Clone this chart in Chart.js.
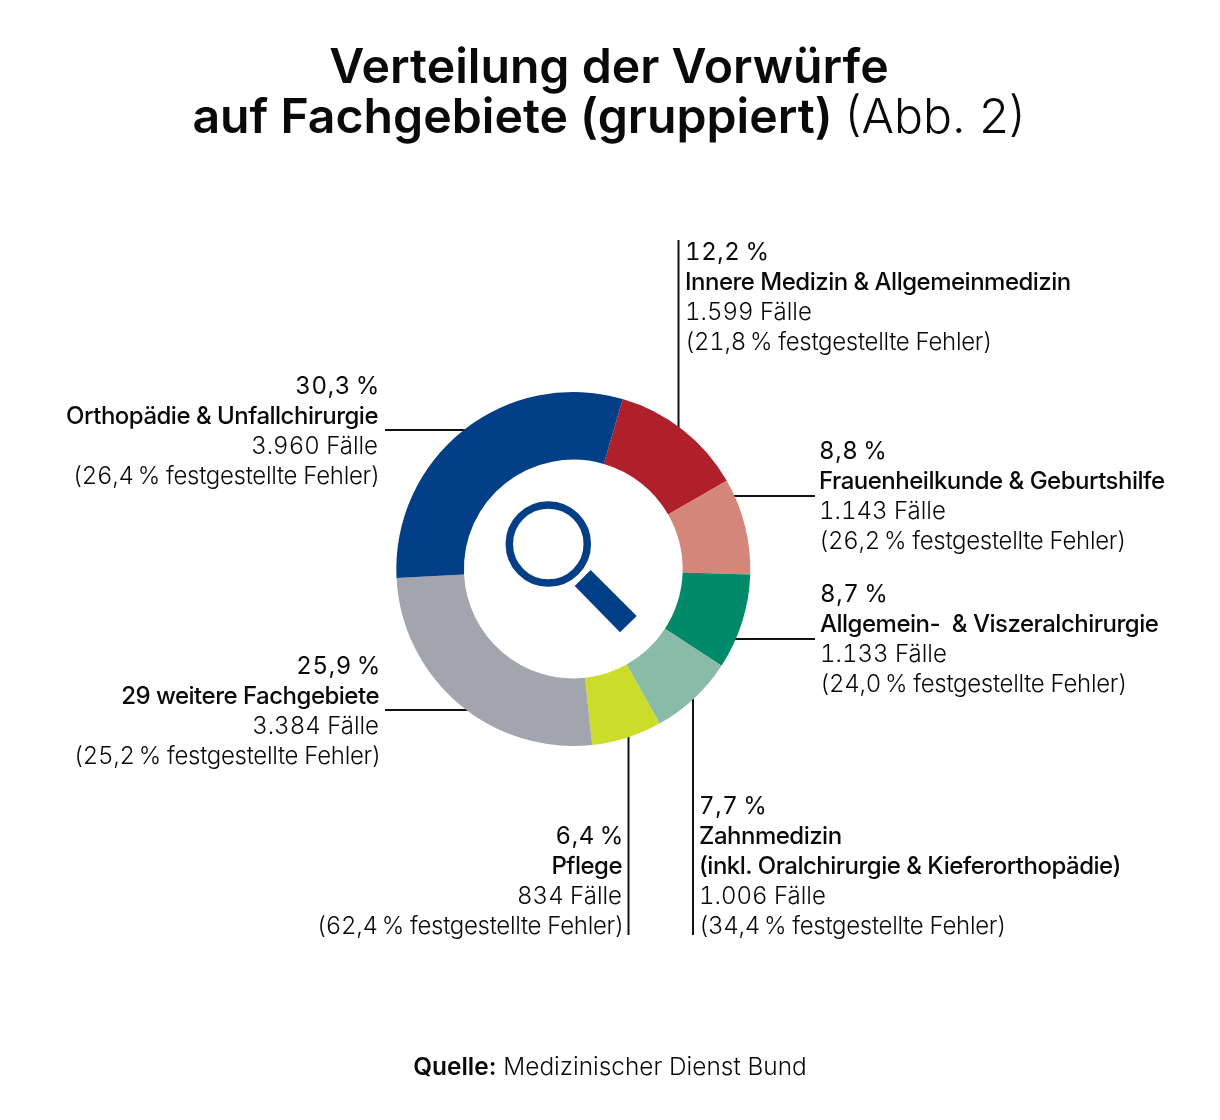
<!DOCTYPE html>
<html lang="de">
<head>
<meta charset="utf-8">
<title>Verteilung der Vorwürfe</title>
<script src="https://cdn.jsdelivr.net/npm/chart.js@4"></script>
<style>
  html, body { margin: 0; background: #fff; }
  #wrap { position: relative; width: 1220px; height: 1120px; overflow: hidden; font-family: Inter, "Open Sans", sans-serif; color: #0a0a0a; }
  #c { position: absolute; left: 0; top: 0; }
  .title { position: absolute; left: 0; width: 1218px; text-align: center; font-size: 48.2px; line-height: 50px; font-weight: 600; top: 41px; }
  .title span { font-weight: 300; }
  .lbl { position: absolute; font-size: 24px; line-height: 30px; white-space: pre; font-weight: 300; font-feature-settings: 'tnum'; }
  .lbl.r { text-align: right; }
  .lbl b { font-weight: 500; letter-spacing: -0.5px; font-feature-settings: normal; }
  .lbl i { font-style: normal; font-weight: 400; letter-spacing: 0.6px; }
  .lbl u { text-decoration: none; letter-spacing: -0.3px; }
  .lbl.r i, .lbl.r u { margin-right: -2px; }
  .src { position: absolute; left: 0; width: 1220px; text-align: center; top: 1051px; font-size: 24.4px; line-height: 30px; font-weight: 300; }
  .src b { font-weight: 600; }
</style>
</head>
<body>
<div id="wrap">
  <canvas id="c" width="1220" height="1120"></canvas>
  <div class="title">Verteilung der Vorwürfe<br>auf Fachgebiete (gruppiert) <span>(Abb. 2)</span></div>
  <div id="labels"></div>
  <div class="src"><b>Quelle:</b> Medizinischer Dienst Bund</div>
</div>
<script>
// ---- Daten ----
const fachgebiete = [
  'Innere Medizin & Allgemeinmedizin',
  'Frauenheilkunde & Geburtshilfe',
  'Allgemein-  & Viszeralchirurgie',
  'Zahnmedizin\n(inkl. Oralchirurgie & Kieferorthopädie)',
  'Pflege',
  '29 weitere Fachgebiete',
  'Orthopädie & Unfallchirurgie',
];
const anteile = [12.2, 8.8, 8.7, 7.7, 6.4, 25.9, 30.3];
const faelle = [1599, 1143, 1133, 1006, 834, 3384, 3960];
const fehler = [21.8, 26.2, 24.0, 34.4, 62.4, 25.2, 26.4];
const farben = ['#b0202a', '#d5867a', '#008a6a', '#88bba8', '#cbdc2a', '#a2a5ad', '#033f87'];

// ---- Beschriftung: Position je Segment (x, obere Kante, Ausrichtung) ----
const labelPos = [
  { x: 685, top: 236.5, align: 'l' },
  { x: 819, top: 435.5, align: 'l' },
  { x: 820, top: 578.5, align: 'l' },
  { x: 699, top: 790.5, align: 'l' },
  { x: 622, top: 820.5, align: 'r' },
  { x: 379, top: 650.5, align: 'r' },
  { x: 378, top: 370.5, align: 'r' },
];

// Führungslinien, enden unter dem Ring
const leaderLines = [
  [678.5, 240, 678.5, 450],
  [815, 496, 710, 496],
  [815, 639, 710, 639],
  [693, 935, 693, 680],
  [628.5, 935, 628.5, 720],
  [385, 710, 490, 710],
  [385, 430, 490, 430],
];

const pct = (v) => v.toFixed(1).replace('.', ',') + '\u2009%';

function buildLabels() {
  const box = document.getElementById('labels');
  fachgebiete.forEach((name, i) => {
    const p = labelPos[i];
    const el = document.createElement('div');
    el.className = 'lbl ' + p.align;
    el.style.top = p.top + 'px';
    if (p.align === 'l') el.style.left = p.x + 'px';
    else el.style.right = (1220 - p.x) + 'px';
    const head = document.createElement('i');
    head.textContent = pct(anteile[i]);
    const title = document.createElement('b');
    title.textContent = name;
    const err = document.createElement('u');
    err.textContent = '(' + pct(fehler[i]) + ' festgestellte Fehler)';
    el.appendChild(head);
    el.appendChild(document.createTextNode('\n'));
    el.appendChild(title);
    el.appendChild(document.createTextNode('\n' + faelle[i].toLocaleString('de-DE') + ' Fälle\n'));
    el.appendChild(err);
    box.appendChild(el);
  });
}

// ---- Führungslinien unter dem Ring ----
const leaderPlugin = {
  id: 'leaders',
  beforeDatasetsDraw(chart) {
    const ctx = chart.ctx;
    ctx.save();
    ctx.strokeStyle = '#111';
    ctx.lineWidth = 2;
    leaderLines.forEach(([x1, y1, x2, y2]) => {
      ctx.beginPath();
      ctx.moveTo(x1, y1);
      ctx.lineTo(x2, y2);
      ctx.stroke();
    });
    ctx.restore();
  },
};

// ---- Lupe in der Mitte ----
const lupePlugin = {
  id: 'lupe',
  afterDatasetsDraw(chart) {
    const arc = chart.getDatasetMeta(0).data[0];
    const ctx = chart.ctx;
    ctx.save();
    ctx.translate(arc.x, arc.y);
    ctx.strokeStyle = farben[6];
    ctx.fillStyle = farben[6];
    ctx.lineWidth = 7.5;
    ctx.beginPath();
    ctx.arc(-25, -25, 39, 0, Math.PI * 2);
    ctx.stroke();
    ctx.beginPath();
    ctx.moveTo(17.4, 1);
    ctx.lineTo(63.4, 47);
    ctx.lineTo(46.7, 63.3);
    ctx.lineTo(1.4, 17);
    ctx.closePath();
    ctx.fill();
    ctx.restore();
  },
};

buildLabels();

new Chart(document.getElementById('c'), {
  type: 'doughnut',
  data: {
    labels: fachgebiete,
    datasets: [{
      data: anteile,
      backgroundColor: farben,
      borderWidth: 0,
    }],
  },
  options: {
    responsive: false,
    animation: false,
    cutout: '61.8%',
    rotation: 16.2,
    layout: { padding: { left: 396.3, right: 469.7, top: 392, bottom: 374 } },
    plugins: {
      legend: { display: false },
      tooltip: { enabled: false },
    },
  },
  plugins: [leaderPlugin, lupePlugin],
});
</script>
</body>
</html>
